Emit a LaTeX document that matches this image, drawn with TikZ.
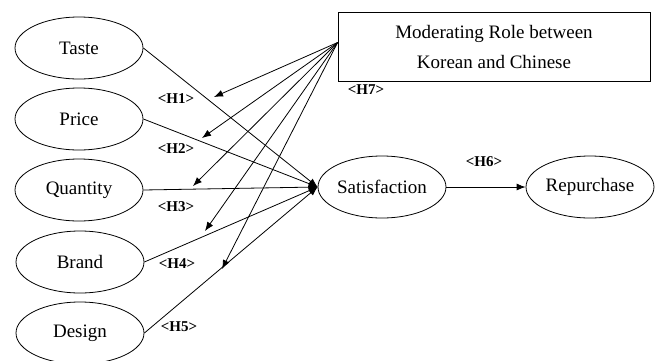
\documentclass[tikz,border=0pt]{standalone}
\usepackage{fontspec}
\setmainfont{Liberation Serif}
\usetikzlibrary{shapes, arrows.meta, calc, positioning}
\tikzset{
  factor/.style={draw, ellipse, minimum width=64pt, minimum height=31pt, inner sep=0pt, font=\rmfamily\fontsize{9.5}{11}\selectfont},
  hyp/.style={font=\bfseries\fontsize{7.5}{9}\selectfont, inner sep=0pt},
  link/.style={-{Latex[length=4.5pt, width=3.5pt]}, thin}
}

\begin{document}
\begin{tikzpicture}[x=0.5pt, y=-0.5pt]
        \useasboundingbox (0,0) rectangle (660,360);
        % left side factors
        \node [factor] (NT) at (79, 48) {Taste};
        \node [factor] (NP) at (79, 119) {Price};
        \node [factor] (NQ) at (79, 190) {Quantity};
        \node [factor] (NB) at (80, 262) {Brand};
        \node [factor] (ND) at (80, 333) {Design};
        \node [factor] (NS) at (382, 187) {Satisfaction};
        \node [factor] (NR) at (590, 187) {Repurchase};
        \node [draw, rectangle, minimum width=156pt, minimum height=34.5pt, align=center,
               font=\rmfamily\fontsize{9.5}{15}\selectfont] (NM) at (494, 46.5) {Moderating Role between\\Korean and Chinese};

        % free ends of the moderating arrows
        \coordinate (M1) at (214, 97);
        \coordinate (M2) at (202, 138);
        \coordinate (M3) at (193, 186);
        \coordinate (M4) at (205, 231);
        \coordinate (M5) at (222, 269);
        \coordinate (MS) at ($(NM.west)+(0,-4)$);

        \draw [link] (NT.east) -- (NS.west);
        \draw [link] (NP.east) -- (NS.west);
        \draw [link] (NQ.east) -- (NS.west);
        \draw [link] (NB.east) -- (NS.west);
        \draw [link] (ND.east) -- (NS.west);
        \draw [link] (NS) -- (NR);
        \foreach \m in {M1, M2, M3, M4, M5}
            \draw [link] (MS) -- (\m);

        \node [hyp] (H1) at (176, 99) {<H1>};
        \node [hyp] (H2) at (176, 149) {<H2>};
        \node [hyp] (H3) at (176, 207) {<H3>};
        \node [hyp] (H4) at (177, 264) {<H4>};
        \node [hyp] (H5) at (179, 327) {<H5>};
        \node [hyp] (H6) at (484, 162) {<H6>};
        \node [hyp] (H7) at (366, 90) {<H7>};
    \end{tikzpicture}
\end{document}
